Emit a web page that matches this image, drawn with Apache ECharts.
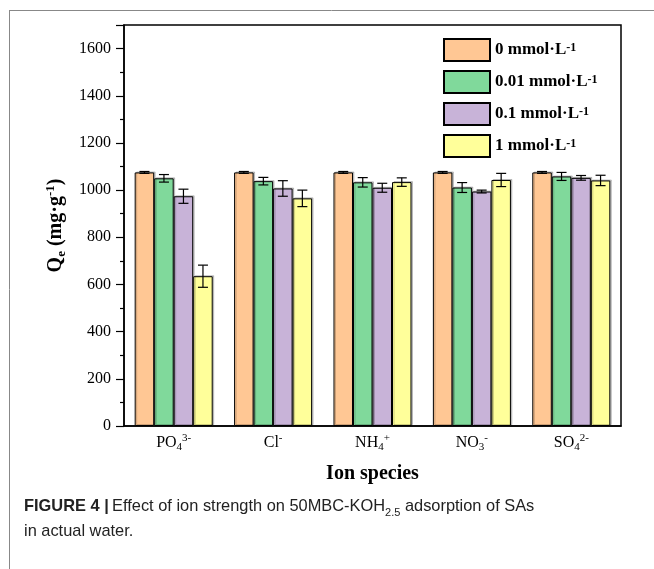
<!DOCTYPE html>
<html>
<head>
<meta charset="utf-8">
<script src="https://cdn.jsdelivr.net/npm/echarts@6/dist/echarts.min.js"></script>
<style>
  html, body { margin: 0; padding: 0; background: #fff; }
  #main { width: 654px; height: 569px; }
</style>
</head>
<body>
<div id="main"></div>
<script>
// ion categories, drawn with sub/superscripts
var ions = ['PO', 'Cl', 'NH', 'NO', 'SO'];
var ionSub = ['4', '', '4', '3', '4'];
var ionSup = ['3-', '-', '+', '-', '2-'];

// concentrations (legend)
var concNames = ['0 mmol·L', '0.01 mmol·L', '0.1 mmol·L', '1 mmol·L'];
var colors = ['#FFC794', '#80D99B', '#C8B3D8', '#FFFF9A'];

// Qe values (mg/g) per concentration, in ion order
var q0    = [1075, 1075, 1075, 1075, 1075];
var q001  = [1050, 1038, 1033, 1011, 1058];
var q01   = [974, 1007, 1010, 994, 1052];
var q1    = [635, 965, 1034, 1043, 1041];

// error bars (+/-)
var e0    = [4, 4, 4, 4, 4];
var e001  = [16, 16, 20, 21, 17];
var e01   = [30, 33, 19, 6, 10];
var e1    = [47, 35, 18, 28, 22];

var values = [q0, q001, q01, q1];
var errors = [e0, e001, e01, e1];
var catGap = 0.215;

var serif = 'Liberation Serif, Times New Roman, serif';
var sans = 'Liberation Sans, Arial, sans-serif';

var chart = echarts.init(document.getElementById('main'));

var series = [];
values.forEach(function (vals, k) {
  series.push({
    name: concNames[k],
    type: 'bar',
    data: vals,
    barGap: '0%',
    barCategoryGap: (catGap * 100) + '%',
    itemStyle: { color: colors[k], borderColor: '#000', borderWidth: 1,
      shadowColor: 'rgba(0,0,0,0.2)', shadowOffsetX: 1.5, shadowOffsetY: -1 },
    emphasis: { disabled: true }
  });
});
values.forEach(function (vals, k) {
  series.push({
    type: 'custom',
    z: 5,
    data: vals.map(function (v, i) { return [i, v, errors[k][i]]; }),
    renderItem: function (params, api) {
      var i = api.value(0), v = api.value(1), e = api.value(2);
      var band = api.size([1, 0])[0];
      var barW = band * (1 - catGap) / 4;
      var cx = api.coord([i, v])[0] + (k - 1.5) * barW;
      var top = api.coord([i, v + e])[1];
      var bot = api.coord([i, v - e])[1];
      var st = { stroke: '#000', lineWidth: 1.2 };
      return {
        type: 'group',
        children: [
          { type: 'line', shape: { x1: cx, y1: top, x2: cx, y2: bot }, style: st },
          { type: 'line', shape: { x1: cx - 5, y1: top, x2: cx + 5, y2: top }, style: st },
          { type: 'line', shape: { x1: cx - 5, y1: bot, x2: cx + 5, y2: bot }, style: st }
        ]
      };
    }
  });
});

var option = {
  animation: false,
  grid: { left: 124, right: 33, top: 25, bottom: 143, show: true,
          borderColor: '#000', borderWidth: 1.5, backgroundColor: 'transparent' },
  legend: {
    orient: 'vertical', left: 438, top: 33,
    itemWidth: 46, itemHeight: 22, itemGap: 8,
    icon: 'rect',
    data: concNames,
    formatter: function (n) { return '{a|' + n + '}{s|-1}'; },
    textStyle: {
      rich: {
        a: { fontFamily: serif, fontWeight: 'bold', fontSize: 17, color: '#000' },
        s: { fontFamily: serif, fontWeight: 'bold', fontSize: 12, color: '#000', verticalAlign: 'top', lineHeight: 12 }
      }
    }
  },
  xAxis: [{
    type: 'category',
    data: ions,
    name: 'Ion species',
    nameLocation: 'middle',
    nameGap: 38,
    nameTextStyle: { fontFamily: serif, fontWeight: 'bold', fontSize: 20, color: '#000' },
    axisLine: { lineStyle: { color: '#000', width: 1.5 } },
    axisTick: { alignWithLabel: true, length: 5, lineStyle: { color: '#000', width: 1.2 } },
    axisLabel: {
      margin: 7,
      interval: 0,
      formatter: function (v, i) {
        return '{b|' + v + '}' + (ionSub[i] ? '{d|' + ionSub[i] + '}' : '') + '{u|' + ionSup[i] + '}';
      },
      rich: {
        b: { fontFamily: serif, fontSize: 16, color: '#000', lineHeight: 20 },
        d: { fontFamily: serif, fontSize: 11, color: '#000', verticalAlign: 'bottom', lineHeight: 12 },
        u: { fontFamily: serif, fontSize: 11, color: '#000', verticalAlign: 'top', lineHeight: 12 }
      }
    }
  }, {
    type: 'category',
    data: ions,
    position: 'bottom',
    axisLine: { show: false },
    axisTick: { length: 3, lineStyle: { color: '#000', width: 1.2 } },
    axisLabel: { show: false }
  }],
  yAxis: {
    type: 'value',
    min: 0, max: 1700, interval: 200,
    name: '{q|Q}{e|e}{q| (mg·g}{s|-1}{q|)}',
    nameLocation: 'middle',
    nameGap: 56,
    nameRotate: 90,
    nameTextStyle: {
      rich: {
        q: { fontFamily: serif, fontWeight: 'bold', fontSize: 20, color: '#000', lineHeight: 24 },
        e: { fontFamily: serif, fontWeight: 'bold', fontSize: 13, color: '#000', verticalAlign: 'bottom', lineHeight: 14 },
        s: { fontFamily: serif, fontWeight: 'bold', fontSize: 13, color: '#000', verticalAlign: 'top', lineHeight: 14 }
      }
    },
    splitLine: { show: false },
    axisLine: { show: true, lineStyle: { color: '#000', width: 1.5 } },
    axisTick: { show: true, length: 8, lineStyle: { color: '#000', width: 1.2 } },
    minorTick: { show: true, splitNumber: 2, length: 4, lineStyle: { color: '#000', width: 1.2 } },
    axisLabel: { showMaxLabel: false, margin: 13, fontFamily: serif, fontSize: 16, color: '#000',
                 formatter: function (v) { return String(v); } }
  },
  graphic: [
    { type: 'line', shape: { x1: 9, y1: 10.5, x2: 654, y2: 10.5 }, style: { stroke: '#888', lineWidth: 1 } },
    { type: 'line', shape: { x1: 9.5, y1: 10, x2: 9.5, y2: 569 }, style: { stroke: '#888', lineWidth: 1 } },
    {
      type: 'text', left: 24, top: 498,
      style: {
        text: '{b|FIGURE 4 |} {n|Effect of ion strength on 50MBC-KOH}{d|2.5}{n| adsorption of SAs}\n{n|in actual water.}',
        rich: {
          b: { fontFamily: sans, fontWeight: 'bold', fontSize: 16.4, fill: '#222', lineHeight: 25 },
          n: { fontFamily: sans, fontSize: 16.4, fill: '#222', lineHeight: 25 },
          d: { fontFamily: sans, fontSize: 11, fill: '#222', verticalAlign: 'bottom', lineHeight: 15 }
        }
      }
    }
  ],
  series: series
};
chart.setOption(option);
</script>
</body>
</html>
